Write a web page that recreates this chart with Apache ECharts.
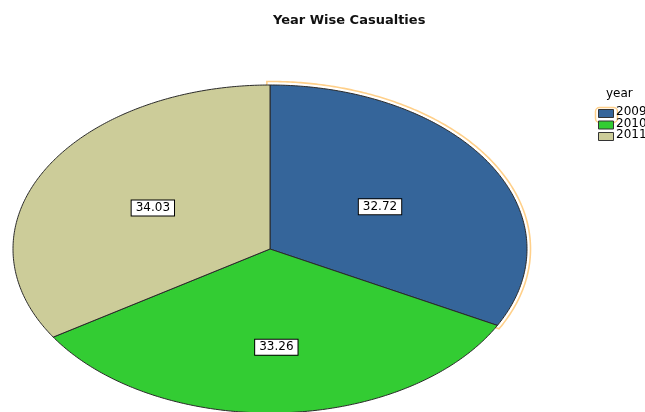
<!DOCTYPE html>
<html>
<head>
<meta charset="utf-8">
<script src="https://cdn.jsdelivr.net/npm/echarts@6/dist/echarts.min.js"></script>
<style>html,body{margin:0;padding:0;background:#fff;overflow:hidden;}#c{width:645px;height:412px;}</style>
</head>
<body>
<div id="c"></div>
<script>
const chartTitle = 'Year Wise Casualties';
const legendTitle = 'year';
const categories = ['2009', '2010', '2011'];
const values = [32.72, 33.26, 34.03];
const labels = ['32.72', '33.26', '34.03'];

const colors = ['#35659a', '#33cc33', '#cccc99'];
const FONT = '"DejaVu Sans", Verdana, sans-serif';
const CX = 270, CY = 249, RX = 257, RY = 164;
const LABEL_F = [0.5, 0.6, 0.52];
const total = values.reduce((a, b) => a + b, 0);

function arcPoints(cx, cy, rx, ry, a0, a1) {
  const pts = [];
  const n = Math.max(8, Math.ceil((a1 - a0) / 0.01));
  for (let i = 0; i <= n; i++) {
    const t = a0 + (a1 - a0) * i / n;
    pts.push([cx + rx * Math.sin(t), cy - ry * Math.cos(t)]);
  }
  return pts;
}

function renderItem(params, api) {
  const idx = params.dataIndex;
  let before = 0;
  for (let i = 0; i < idx; i++) before += values[i];
  const v = api.value(1);
  const a0 = before / total * Math.PI * 2;
  const a1 = (before + v) / total * Math.PI * 2;
  const children = [];
  if (idx === 0) {
    const pts = [[CX - 2.5, CY + 3]].concat(arcPoints(CX, CY, RX + 3.5, RY + 3.5, a0 - 0.012, a1 + 0.012));
    children.push({
      type: 'polygon', shape: { points: pts },
      style: { fill: 'none', stroke: '#ffd08a', lineWidth: 1.6 }, z2: 1
    });
  }
  const pts = [[CX, CY]].concat(arcPoints(CX, CY, RX, RY, a0, a1));
  children.push({
    type: 'polygon', shape: { points: pts },
    style: { fill: colors[idx], stroke: '#2a2a2a', lineWidth: 1 }, z2: 2
  });
  const mid = (a0 + a1) / 2;
  const f = LABEL_F[idx];
  children.push({
    type: 'text', z2: 5,
    x: CX + RX * f * Math.sin(mid), y: CY - RY * f * Math.cos(mid),
    style: {
      text: labels[idx], fill: '#000', font: '12px ' + FONT,
      align: 'center', verticalAlign: 'middle',
      backgroundColor: '#fff', borderColor: '#000', borderWidth: 1,
      padding: [2, 4, 1, 4]
    }
  });
  return { type: 'group', children: children };
}

const legendEls = [{
  type: 'text', left: 606, top: 88,
  style: { text: legendTitle, fill: '#000', font: '12px ' + FONT }
}];
categories.forEach((c, i) => {
  const y = 109 + i * 11.5;
  if (i === 0) {
    legendEls.push({ type: 'rect', left: 593, top: y - 4, shape: { width: 22, height: 15, r: 4 },
      style: { fill: 'none', stroke: '#ffd08a', lineWidth: 1.5 } });
  }
  legendEls.push({ type: 'rect', left: 598, top: y, shape: { width: 15, height: 8 },
    style: { fill: colors[i], stroke: '#333', lineWidth: 1 } });
  legendEls.push({ type: 'text', left: 616, top: y - 3,
    style: { text: c, fill: '#000', font: '12px ' + FONT } });
});

const chart = echarts.init(document.getElementById('c'));
chart.setOption({
  backgroundColor: '#fff',
  animation: false,
  title: {
    text: chartTitle, left: 268, top: 9,
    textStyle: { fontSize: 13, fontWeight: 'bold', fontFamily: FONT, color: '#111' }
  },
  graphic: legendEls,
  series: [{
    type: 'custom',
    coordinateSystem: 'none',
    renderItem: renderItem,
    data: categories.map((c, i) => ({ name: c, value: [i, values[i]] }))
  }]
});
</script>
</body>
</html>
